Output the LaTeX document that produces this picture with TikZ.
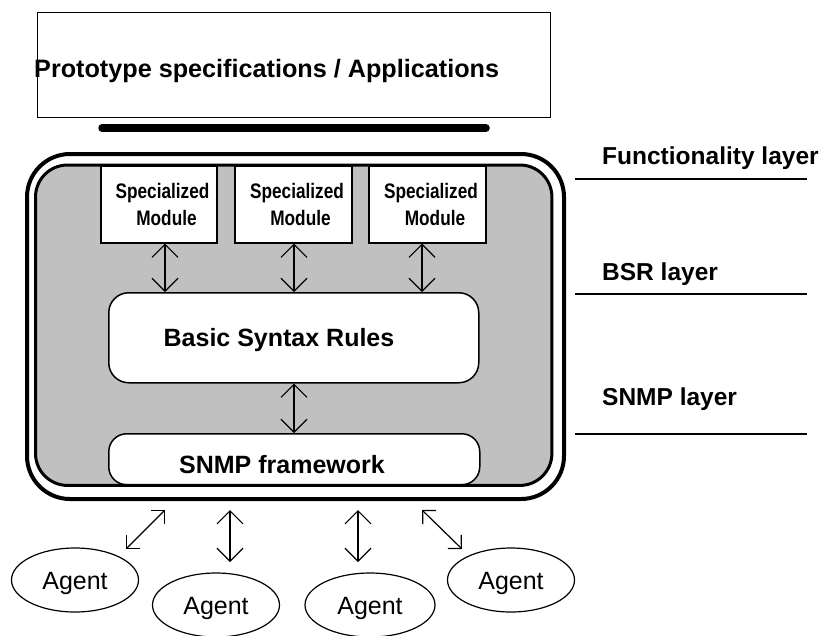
\documentclass[tikz,border=0pt]{standalone}
\usepackage{fontspec}
\setmainfont{Liberation Sans}
\newfontfamily\narrowfont[FakeStretch=0.82]{Liberation Sans}
\usetikzlibrary{arrows.meta,shapes.geometric,calc}
\definecolor{panel}{RGB}{192,192,192}
\begin{document}
\begin{tikzpicture}[x=1pt,y=-1pt,
  boldlbl/.style={font=\fontsize{24.5}{28}\selectfont\bfseries, inner sep=0pt, anchor=base west},
  boxlbl/.style={font=\fontsize{25}{28}\selectfont\bfseries, inner sep=0pt, anchor=base},
  modtxt/.style={font=\narrowfont\bfseries\fontsize{21}{24}\selectfont, inner sep=0pt, anchor=base},
  modbox/.style={draw, line width=1.5pt, fill=white, inner sep=0pt, anchor=north west},
  roundbox/.style={draw, line width=1.5pt, fill=white, inner sep=0pt, anchor=north west, rounded corners=20pt},
  agent/.style={draw, ellipse, line width=1.2pt, inner sep=0pt, minimum width=127pt, minimum height=64pt,
     font=\fontsize{25}{28}\selectfont, text height=18pt, text depth=0pt},
  biarrow/.style={line width=1.2pt, {Straight Barb[length=13pt,width=26pt]}-{Straight Barb[length=13pt,width=26pt]}},
  diagarrow/.style={line width=1.2pt, {Straight Barb[length=9.5pt,width=19pt]}-{Straight Barb[length=9.5pt,width=19pt]}},
  layerline/.style={line width=1.2pt}
]
\useasboundingbox (0,0) rectangle (822,635);

% top box
\node[draw, line width=1.2pt, inner sep=0pt, anchor=north west, minimum width=513pt, minimum height=105pt] (proto) at (37,12) {};
\node[boldlbl, font=\fontsize{25.2}{28}\selectfont\bfseries] (protot) at (34,77) {Prototype specifications / Applications};
% thick bar
\draw[line width=7.5pt, line cap=round] (102,128) -- (486,128);

% outer frame
\node[draw, line width=4pt, rounded corners=43pt, inner sep=0pt, anchor=north west, minimum width=537pt, minimum height=345pt] (outer) at (25,152) {};
% inner panel fill
\node[fill=panel, rounded corners=32pt, inner sep=0pt, anchor=north west, minimum width=516pt, minimum height=320pt] (inner) at (35.5,165) {};

% modules
\node[modbox, minimum width=116pt, minimum height=77pt] (m1) at (100,165) {};
\node[modbox, minimum width=117pt, minimum height=77pt] (m2) at (234,165) {};
\node[modbox, minimum width=117pt, minimum height=77pt] (m3) at (368,165) {};
\node[modtxt] (m1a) at (162.5,198) {Specialized};
\node[modtxt] (m1b) at (166.5,225) {Module};
\node[modtxt] (m2a) at (297,198) {Specialized};
\node[modtxt] (m2b) at (300.5,225) {Module};
\node[modtxt] (m3a) at (431,198) {Specialized};
\node[modtxt] (m3b) at (435,225) {Module};

% BSR and SNMP boxes
\node[roundbox, minimum width=370pt, minimum height=90pt] (bsr) at (108,292) {};
\node[boxlbl] (bsrt) at (279,346) {Basic Syntax Rules};
\node[roundbox, rounded corners=18pt, minimum width=371pt, minimum height=51pt] (snmp) at (108,433) {};
\node[boxlbl] (snmpt) at (282,473) {SNMP framework};

% inner border on top
\draw[line width=3pt, rounded corners=32pt] (inner.north west) rectangle (inner.south east);

% inner arrows
\draw[biarrow] (m1.south -| 165,0) -- (bsr.north -| 165,0);
\draw[biarrow] (m2.south -| 294,0) -- (bsr.north -| 294,0);
\draw[biarrow] (m3.south -| 422,0) -- (bsr.north -| 422,0);
\draw[biarrow] (bsr.south -| 294,0) -- (snmp.north -| 294,0);

% layer labels
\node[boldlbl] (fl) at (602,164) {Functionality layer};
\draw[layerline] (575,179) -- (807,179);
\node[boldlbl] (bl) at (602,280) {BSR layer};
\draw[layerline] (575,294) -- (807,294);
\node[boldlbl] (sl) at (602,405) {SNMP layer};
\draw[layerline] (575,434) -- (807,434);

% agents
\node[agent] (a1) at (75,580) {Agent};
\node[agent] (a2) at (216,605) {Agent};
\node[agent, minimum width=130pt] (a3) at (370,605) {Agent};
\node[agent] (a4) at (511,580) {Agent};

\coordinate (t1) at (165,510);
\coordinate (b1) at (126,549);
\coordinate (t2) at (230,510);
\coordinate (b2) at (230,562);
\coordinate (t3) at (358,510);
\coordinate (b3) at (358,562);
\coordinate (t4) at (422,510);
\coordinate (b4) at (462,549);
\draw[diagarrow] (t1) -- (b1);
\draw[biarrow] (t2) -- (b2);
\draw[biarrow] (t3) -- (b3);
\draw[diagarrow] (t4) -- (b4);
\end{tikzpicture}
\end{document}
